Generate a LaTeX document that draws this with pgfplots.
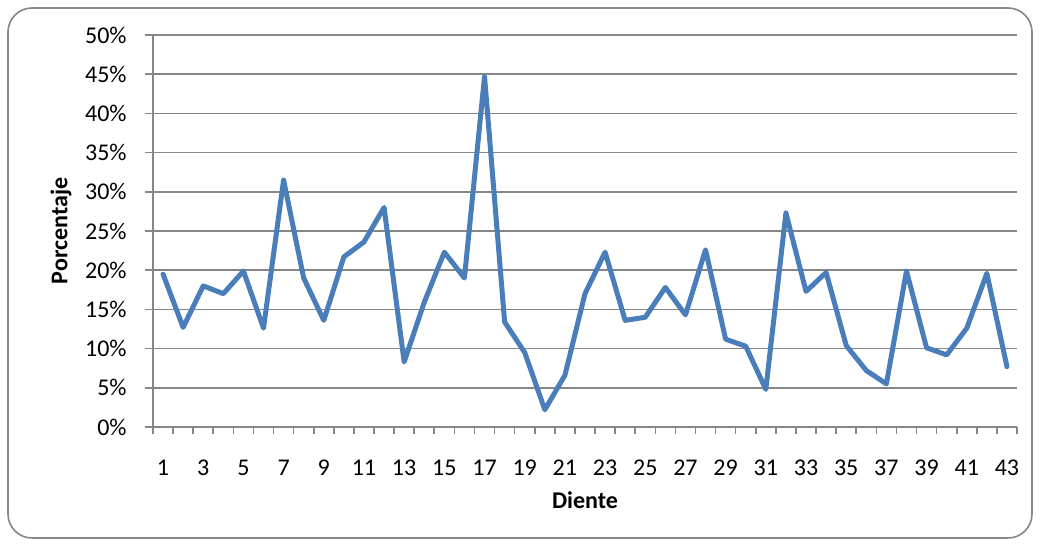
\documentclass[border=0pt]{standalone}
\usepackage{fontspec}
\setmainfont{Carlito}
\usepackage{pgfplots}
\pgfplotsset{compat=1.18}
\definecolor{serie}{HTML}{4A7EBB}
\definecolor{rejilla}{HTML}{868686}
\begin{document}
\begin{tikzpicture}
\begin{axis}[
    at={(0,0)}, anchor=origin,
    scale only axis,
    width=432pt, height=196pt,
    xmin=0.5, xmax=43.5,
    ymin=0, ymax=50,
    axis lines*=left,
    axis line style={rejilla, line width=0.8pt},
    every tick/.style={rejilla, line width=0.8pt},
    tick align=outside,
    font=\fontsize{12}{14}\selectfont,
    xtick={1,3,...,43},
    xticklabels={1,3,5,7,9,11,13,15,17,19,21,23,25,27,29,31,33,35,37,39,41,43},
    major x tick style={draw=none},
    minor xtick={0.5,1.5,...,43.5},
    minor tick length=3.5pt,
    ytick={0,5,...,50},
    yticklabels={0\%,5\%,10\%,15\%,20\%,25\%,30\%,35\%,40\%,45\%,50\%},
    major tick length=4pt,
    ymajorgrids,
    major grid style={rejilla, line width=0.8pt},
    xticklabel style={anchor=base, inner sep=0pt, yshift=-20.5pt},
    yticklabel style={anchor=east, inner sep=0pt, xshift=-9pt},
    xlabel={\textbf{Diente}},
    ylabel={\textbf{Porcentaje}},
    xlabel style={at={(rel axis cs:0.5,0)}, anchor=center, yshift=-36.5pt},
    ylabel style={at={(rel axis cs:0,0.5)}, anchor=center, yshift=46pt},
    clip=false,
]
\addplot[serie, line width=2.5pt, line join=round, line cap=round] coordinates {
(1,19.5)(2,12.7)(3,18.0)(4,17.0)(5,19.9)(6,12.6)(7,31.5)(8,19.0)(9,13.6)(10,21.7)
(11,23.6)(12,28.0)(13,8.3)(14,15.9)(15,22.3)(16,19.0)(17,44.7)(18,13.4)(19,9.5)(20,2.2)
(21,6.6)(22,17.0)(23,22.3)(24,13.6)(25,14.0)(26,17.8)(27,14.3)(28,22.6)(29,11.2)(30,10.3)
(31,4.8)(32,27.3)(33,17.3)(34,19.7)(35,10.4)(36,7.2)(37,5.5)(38,19.9)(39,10.1)(40,9.2)
(41,12.6)(42,19.6)(43,7.7)
};
\end{axis}
\draw[rejilla, line width=0.8pt, rounded corners=12pt] (-72.5pt,-55.5pt) rectangle (439.5pt,209.5pt);
\path (-76.5pt,-59pt) rectangle (443.5pt,213.5pt);
\end{tikzpicture}
\end{document}
